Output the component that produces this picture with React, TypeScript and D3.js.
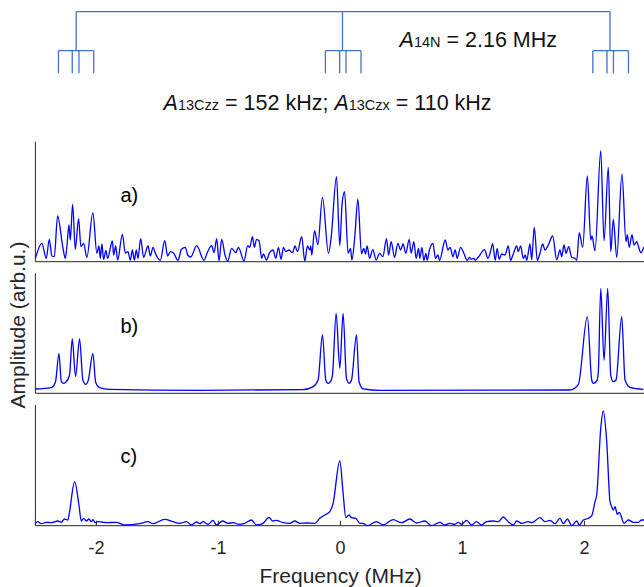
import React from 'react';
import * as d3 from 'd3';

// Spectrum a) — frequency (MHz), amplitude (arb.u.)
const traceA: [number, number][] = [
  [-2.5,3.4],[-2.447,18.4],[-2.411,3.4],[-2.386,22.4],[-2.365,5.7],[-2.345,5],[-2.318,45.7],[-2.275,14.4],[-2.255,3.4],[-2.242,15],[-2.225,36.7],[-2.214,21.7],[-2.195,57.4],[-2.173,12.4],[-2.146,43],[-2.127,15],[-2.105,18.4],[-2.078,4.4],[-2.029,49],[-1.996,8.4],[-1.979,15.7],[-1.968,3.4],[-1.955,17.7],[-1.941,2.4],[-1.922,11.4],[-1.908,3.4],[-1.869,20.7],[-1.859,6.7],[-1.842,15.7],[-1.826,1.7],[-1.787,27.4],[-1.763,8.7],[-1.741,10],[-1.722,1.4],[-1.705,11.7],[-1.689,1.4],[-1.673,11.7],[-1.659,3.4],[-1.637,23],[-1.613,4.4],[-1.577,15.7],[-1.558,5.7],[-1.536,14.4],[-1.517,8.4],[-1.476,1.4],[-1.44,21],[-1.416,5.7],[-1.394,10],[-1.367,8.4],[-1.331,1.4],[-1.303,12.4],[-1.271,14.4],[-1.252,6.7],[-1.227,4.7],[-1.178,16],[-1.118,1.4],[-1.09,9.4],[-1.055,16],[-1.036,9],[-1.014,23],[-0.995,1],[-0.973,22.4],[-0.946,6.7],[-0.924,0.7],[-0.891,13.4],[-0.858,9],[-0.836,14.4],[-0.79,0.7],[-0.76,16],[-0.743,14.4],[-0.721,25],[-0.705,14.4],[-0.688,22.4],[-0.667,21],[-0.645,3.4],[-0.631,7.7],[-0.606,1.7],[-0.579,9.4],[-0.552,11.7],[-0.53,3.4],[-0.508,14.4],[-0.486,2.4],[-0.467,14.4],[-0.448,10],[-0.421,11.7],[-0.393,9],[-0.372,15.7],[-0.352,10],[-0.317,25],[-0.292,0.7],[-0.27,15.7],[-0.251,11.7],[-0.243,15.7],[-0.235,6.7],[-0.212,31],[-0.185,17],[-0.147,64.4],[-0.098,8.4],[-0.076,24],[-0.032,85],[-0.005,16],[0.014,58],[0.034,70],[0.063,8.4],[0.083,13.4],[0.094,1.7],[0.118,25],[0.143,62.5],[0.173,8],[0.192,13.4],[0.206,7.7],[0.219,15.7],[0.239,3.4],[0.266,12],[0.293,1.7],[0.321,8.4],[0.348,5],[0.378,23],[0.395,6.7],[0.416,20],[0.444,4.4],[0.471,18.4],[0.493,11.7],[0.514,17.7],[0.536,8.4],[0.564,22.4],[0.58,8.4],[0.602,20],[0.621,3.4],[0.641,13.4],[0.651,3.4],[0.668,14.4],[0.684,1.4],[0.701,8.4],[0.711,1.4],[0.731,12.4],[0.758,18.4],[0.78,3.4],[0.799,6.7],[0.813,1.4],[0.859,21.7],[0.881,11.7],[0.9,14.4],[0.922,5],[0.941,11.7],[0.957,3.4],[0.985,14.4],[1.012,8.4],[1.039,1.4],[1.059,4.4],[1.072,2.4],[1.094,3.4],[1.105,1.4],[1.133,5],[1.182,12],[1.209,3.4],[1.227,8.4],[1.248,18],[1.269,1.4],[1.285,13.4],[1.302,2.4],[1.322,7.7],[1.349,6.7],[1.376,15.7],[1.395,1.4],[1.417,7.7],[1.445,15.7],[1.458,10],[1.477,15.7],[1.499,3.4],[1.515,6.7],[1.527,1.4],[1.554,17.7],[1.568,2],[1.589,34.4],[1.614,1.4],[1.636,8.4],[1.658,17.7],[1.677,11.7],[1.704,16.7],[1.74,25.7],[1.773,2],[1.8,11.7],[1.814,5],[1.833,16.7],[1.849,8.4],[1.871,15],[1.896,4.4],[1.923,3.4],[1.937,1.4],[1.958,29],[1.986,14.4],[2.024,85.7],[2.052,21.7],[2.062,25.7],[2.087,11],[2.134,111],[2.161,21],[2.196,94.4],[2.216,10],[2.237,42.4],[2.265,4.4],[2.308,87.7],[2.341,20],[2.352,27],[2.368,14.4],[2.39,27],[2.407,16.7],[2.429,20],[2.445,14.4],[2.462,9],[2.489,15]
];

// Spectrum b)
const traceB: [number, number][] = [
  [-2.5,4.3],[-2.37,5.7],[-2.335,11.6],[-2.307,40],[-2.288,12],[-2.267,10],[-2.247,11.6],[-2.22,18.3],[-2.198,54.3],[-2.171,17],[-2.138,54.3],[-2.111,13.3],[-2.088,9],[-2.066,13.3],[-2.029,40],[-2.006,11],[-1.974,5.7],[-1.892,4],[-1.153,3],[-0.308,3.6],[-0.226,6.4],[-0.183,13.3],[-0.147,58.3],[-0.12,13.3],[-0.101,10],[-0.081,11.6],[-0.065,18.3],[-0.035,80],[-0.005,25],[0.022,80],[0.05,14.6],[0.071,10],[0.091,13.3],[0.132,58.3],[0.153,11.6],[0.186,4.5],[0.323,3],[1.882,3.3],[1.95,8.7],[2.024,76.6],[2.06,13.3],[2.073,10],[2.101,12.3],[2.114,21.6],[2.134,105],[2.161,33],[2.191,105],[2.216,18],[2.237,11.6],[2.259,13.3],[2.306,76.6],[2.333,13.3],[2.374,6],[2.483,4]
];

// Spectrum c)
const traceC: [number, number][] = [
  [-2.5,2.4],[-2.48,4],[-2.452,2],[-2.411,3.4],[-2.37,3],[-2.316,4.7],[-2.288,3.4],[-2.261,6.7],[-2.234,5.7],[-2.22,14],[-2.179,44],[-2.143,20.7],[-2.124,4.7],[-2.105,7.4],[-2.083,4.7],[-2.061,6.7],[-2.042,4],[-2.029,6],[-2.009,3],[-1.988,4],[-1.919,3],[-1.837,3.4],[-1.769,0.7],[-1.646,2],[-1.577,4],[-1.536,2],[-1.44,6.4],[-1.372,4],[-1.317,2.4],[-1.262,4],[-1.221,0.7],[-1.18,3.7],[-1.153,2],[-1.126,4],[-1.085,1.4],[-1.044,5.4],[-1.016,0.7],[-0.967,4.7],[-0.921,2.4],[-0.88,3],[-0.831,1.4],[-0.784,2.4],[-0.729,5.7],[-0.688,0.7],[-0.634,2.4],[-0.585,8.4],[-0.557,4.7],[-0.524,5.4],[-0.47,3],[-0.415,2.4],[-0.374,4.7],[-0.333,2.4],[-0.278,2.7],[-0.21,2.4],[-0.169,7.4],[-0.128,10.7],[-0.087,14],[-0.06,22.4],[-0.005,64.7],[0.022,33],[0.044,8],[0.071,10.7],[0.091,8],[0.126,7.4],[0.159,2.4],[0.186,2.4],[0.219,0],[0.296,4],[0.35,0.7],[0.432,6],[0.501,3],[0.569,6.7],[0.624,2.7],[0.692,4.7],[0.747,0],[0.815,3.4],[0.856,0.7],[0.897,2.4],[0.938,1.4],[0.966,3.4],[0.993,1.4],[1.034,5.4],[1.075,0.7],[1.116,4],[1.157,0.7],[1.198,4],[1.253,4.7],[1.294,4],[1.335,8.7],[1.376,4],[1.417,0.7],[1.445,4.7],[1.486,2.4],[1.54,4],[1.568,3],[1.636,8],[1.677,4],[1.718,5.4],[1.759,2],[1.8,7.4],[1.827,2],[1.86,6.7],[1.896,0],[1.937,4.7],[1.958,0.7],[1.991,5.7],[2.032,7.4],[2.06,10],[2.087,24],[2.101,30.7],[2.134,97.4],[2.155,114.7],[2.183,84],[2.21,24],[2.224,19],[2.237,15.7],[2.251,19],[2.27,11.4],[2.286,13.4],[2.325,2.4],[2.36,5.7],[2.401,3.4],[2.442,3.4],[2.47,5.7],[2.489,5.7]
];

const xTicks = [-2, -1, 0, 1, 2];
const panelLabels = ['a)', 'b)', 'c)'];

// Splitting diagram (MHz)
const treeCenters = [-2.166, 0.017, 2.21];
const treeLines = [
  [-2.311, -2.198, -2.143, -2.022],
  [-0.123, -0.006, 0.046, 0.169],
  [2.069, 2.185, 2.238, 2.361],
];

const FONT = '"Liberation Sans", Arial, Helvetica, sans-serif';
const W = 644, H = 587;
const x = d3.scaleLinear().domain([-2.5, 2.5]).range([35.4, 645.4]);

const panelBoxes = [
  { top: 141.7, bottom: 261.7, labelY: 202 },
  { top: 273.3, bottom: 393.3, labelY: 333 },
  { top: 405, bottom: 525.7, labelY: 463 },
];
const traces = [traceA, traceB, traceC];

export default function App() {
  const treeColor = '#4472c4';
  const yTop = 11.7, yBar = 50.7, yBottom = 73.3;
  return (
    <svg width={W} height={H} style={{ position: 'absolute', left: 0, top: 0, background: '#fff' }} fontFamily={FONT}>
      {/* splitting tree */}
      <g stroke={treeColor} strokeWidth={1.3} fill="none">
        <line x1={x(treeCenters[0])} x2={x(treeCenters[2])} y1={yTop} y2={yTop} />
        {treeCenters.map((c, i) => (
          <g key={i}>
            <line x1={x(c)} x2={x(c)} y1={yTop} y2={yBar} />
            <line x1={x(treeLines[i][0])} x2={x(treeLines[i][3])} y1={yBar} y2={yBar} />
            {treeLines[i].map((f, j) => (
              <line key={j} x1={x(f)} x2={x(f)} y1={yBar} y2={yBottom} />
            ))}
          </g>
        ))}
      </g>
      <text x={399.6} y={47} fontSize={21.5} fill="#111">
        <tspan fontStyle="italic">A</tspan>
        <tspan fontSize={14.5}>14N</tspan>
        <tspan>{' = 2.16 MHz'}</tspan>
      </text>
      <text x={163.6} y={110} fontSize={21.5} fill="#111">
        <tspan fontStyle="italic">A</tspan>
        <tspan fontSize={14.5}>13Czz</tspan>
        <tspan>{' = 152 kHz; '}</tspan>
        <tspan fontStyle="italic">A</tspan>
        <tspan fontSize={14.5}>13Czx</tspan>
        <tspan>{' = 110 kHz'}</tspan>
      </text>

      {panelBoxes.map((p, i) => {
        const y = d3.scaleLinear().domain([0, 120]).range([p.bottom, p.bottom - 120]);
        const line = d3
          .line<[number, number]>()
          .x((d) => x(d[0]))
          .y((d) => y(d[1]))
          .curve(d3.curveMonotoneX);
        return (
          <g key={i}>
            <path d={line(traces[i]) || ''} fill="none" stroke="#0000ff" strokeWidth={1.3} />
            <line x1={x(-2.5)} x2={x(-2.5)} y1={p.top} y2={p.bottom} stroke="#262626" strokeWidth={1} />
            <line x1={x(-2.5)} x2={x(2.5)} y1={p.bottom} y2={p.bottom} stroke="#262626" strokeWidth={1} />
            <text x={120.5} y={p.labelY} fontSize={20} fill="#000">{panelLabels[i]}</text>
            {i === 2 &&
              xTicks.map((t) => (
                <g key={t}>
                  <line x1={x(t)} x2={x(t)} y1={p.bottom} y2={p.bottom - 5} stroke="#262626" strokeWidth={1} />
                  <text x={x(t)} y={554} fontSize={18} textAnchor="middle" fill="#262626">{String(t)}</text>
                </g>
              ))}
          </g>
        );
      })}

      <text x={340.6} y={583} fontSize={21} textAnchor="middle" fill="#262626">Frequency (MHz)</text>
      <text transform="translate(25,325) rotate(-90)" fontSize={21} textAnchor="middle" fill="#262626">Amplitude (arb.u.)</text>
    </svg>
  );
}
